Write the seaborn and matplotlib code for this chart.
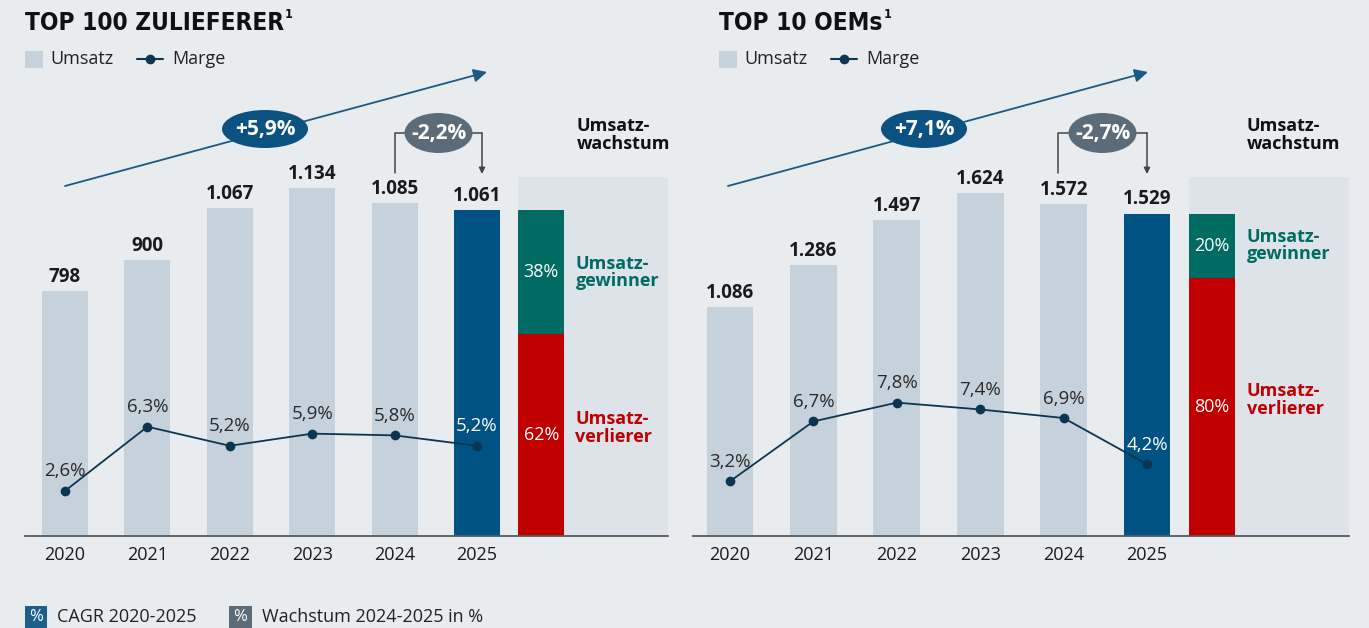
import matplotlib
matplotlib.use("Agg")
import matplotlib.pyplot as plt
from matplotlib.patches import Ellipse, Rectangle
import seaborn as sns
import numpy as np
import pandas as pd

# ---------------- data ----------------
years = ["2020", "2021", "2022", "2023", "2024", "2025"]

sup_title = "TOP 100 ZULIEFERER"
sup_umsatz = [798, 900, 1067, 1134, 1085, 1061]
sup_umsatz_labels = ["798", "900", "1.067", "1.134", "1.085", "1.061"]
sup_marge = [2.6, 6.3, 5.2, 5.9, 5.8, 5.2]
sup_marge_labels = ["2,6%", "6,3%", "5,2%", "5,9%", "5,8%", "5,2%"]
sup_gewinner = 38
sup_verlierer = 62
sup_cagr = "+5,9%"
sup_growth = "-2,2%"

oem_title = "TOP 10 OEMs"
oem_umsatz = [1086, 1286, 1497, 1624, 1572, 1529]
oem_umsatz_labels = ["1.086", "1.286", "1.497", "1.624", "1.572", "1.529"]
oem_marge = [3.2, 6.7, 7.8, 7.4, 6.9, 4.2]
oem_marge_labels = ["3,2%", "6,7%", "7,8%", "7,4%", "6,9%", "4,2%"]
oem_gewinner = 20
oem_verlierer = 80
oem_cagr = "+7,1%"
oem_growth = "-2,7%"

# ---------------- style ----------------
W, H = 1369, 628
BG = "#e8ecef"
SHADE = "#dde3e8"
BAR = "#c5d2db"
BAR_LAST = "#005283"
GREEN = "#006b63"
RED = "#c00000"
LINE = "#0c3650"
TXT = "#1a1a1a"
CAGR_C = "#0b5283"
GROW_C = "#5b6b78"

sns.set_theme(style="white")
plt.rcParams["font.family"] = ["Open Sans", "DejaVu Sans"]
plt.rcParams["text.color"] = TXT

fig = plt.figure(figsize=(W / 100, H / 100), dpi=100, facecolor=BG)


def fx(px):
    return px / W


def fy(py):
    return 1 - py / H


def panel(x_left, x_right, x0, step, umsatz, ulabels, marge, mlabels,
          gew, verl, ymax_units, mmax):
    top_px, bot_px = 60, 536
    ax = fig.add_axes([fx(x_left), fy(bot_px), (x_right - x_left) / W,
                       (bot_px - top_px) / H])
    ax.set_facecolor("none")
    df = pd.DataFrame({"year": years, "umsatz": umsatz})
    pal = {y: (BAR_LAST if y == years[-1] else BAR) for y in years}
    sns.barplot(data=df, x="year", y="umsatz", hue="year", palette=pal,
                width=0.56, legend=False, ax=ax, saturation=1, zorder=2,
                edgecolor="none", linewidth=0)
    xl = ((x_left - x0) / step, (x_right - x0) / step)
    ax.set_xlim(*xl)
    ax.set_ylim(0, ymax_units)
    # shaded region + stacked bar
    shade_top = (bot_px - 177) / (bot_px - top_px)
    ax.axvspan(5.5, xl[1], ymin=0, ymax=shade_top, color=SHADE, zorder=0, lw=0)
    xstk = 5.78
    total = umsatz[-1]
    hv = total * verl / 100
    hg = total * gew / 100
    ax.bar(xstk, hv, width=0.56, color=RED, zorder=2, lw=0)
    ax.bar(xstk, hg, bottom=hv, width=0.56, color=GREEN, zorder=2, lw=0)
    ax.text(xstk, hv / 2, f"{verl}%", color="white", ha="center", va="center",
            fontsize=13, zorder=5)
    ax.text(xstk, hv + hg / 2, f"{gew}%", color="white", ha="center",
            va="center", fontsize=13, zorder=5)
    ax.annotate("Umsatz-\ngewinner", (xstk + 0.28, hv + hg / 2),
                xytext=(8, 0), textcoords="offset points", ha="left",
                va="center", color=GREEN, fontsize=13, fontweight="bold",
                linespacing=0.95)
    ax.annotate("Umsatz-\nverlierer", (xstk + 0.28, hv / 2),
                xytext=(8, 5), textcoords="offset points", ha="left",
                va="center", color=RED, fontsize=13, fontweight="bold",
                linespacing=0.95)
    # value labels
    for i, (v, lab) in enumerate(zip(umsatz, ulabels)):
        ax.annotate(lab, (i, v), xytext=(0, 3), textcoords="offset points",
                    ha="center", va="bottom", fontsize=13.5, fontweight="bold",
                    color=TXT)
    # axes styling
    for s in ["top", "right", "left"]:
        ax.spines[s].set_visible(False)
    ax.spines["bottom"].set_color("#555a5e")
    ax.spines["bottom"].set_linewidth(1.3)
    ax.set_yticks([])
    ax.set_xticks(range(6))
    ax.set_xticklabels(years, fontsize=13, color=TXT)
    ax.tick_params(axis="x", length=0, pad=7)
    ax.set_xlabel("")
    ax.set_ylabel("")
    # margin line
    ax2 = ax.twinx()
    ax2.set_ylim(0, mmax)
    sns.lineplot(x=np.arange(6), y=marge, ax=ax2, color=LINE, lw=1.3,
                 marker="o", markersize=7, markeredgewidth=0,
                 markerfacecolor=LINE, zorder=4)
    ax2.set_xlim(*xl)
    for i, (m, lab) in enumerate(zip(marge, mlabels)):
        ax2.annotate(lab, (i, m), xytext=(0, 14), textcoords="offset points",
                     ha="center", va="center", fontsize=13.5,
                     color=("white" if i == 5 else "#2a2a2a"), zorder=5)
    ax2.axis("off")
    return ax


panel(25, 668, 65, 82.4, sup_umsatz, sup_umsatz_labels, sup_marge,
      sup_marge_labels, sup_gewinner, sup_verlierer, 476 / 0.307, 476 / 17.35)
panel(693, 1349, 730, 83.4, oem_umsatz, oem_umsatz_labels, oem_marge,
      oem_marge_labels, oem_gewinner, oem_verlierer, 476 / 0.2109, 476 / 17.1)

# ---------------- overlay decorations (pixel coords) ----------------
ov = fig.add_axes([0, 0, 1, 1], zorder=10)
ov.set_xlim(0, W)
ov.set_ylim(H, 0)
ov.axis("off")
ov.patch.set_alpha(0)

renderer = fig.canvas.get_renderer()


def title(x, txt):
    t = ov.text(x, 23, txt, fontsize=17.5, fontweight="bold", ha="left",
                va="center", color="#111111", family="DejaVu Sans",
                fontstretch="condensed")
    bb = t.get_window_extent(renderer=renderer)
    xr = bb.x1
    ov.text(xr + 1, 14, "1", fontsize=9, fontweight="bold", ha="left",
            va="center", color="#111111", family="DejaVu Sans",
            fontstretch="condensed")


def legend(x):
    ov.add_patch(Rectangle((x, 51), 18, 17, color=BAR, lw=0))
    ov.text(x + 25, 59, "Umsatz", fontsize=13, va="center", ha="left",
            color="#222222")
    ov.plot([x + 112, x + 138], [59, 59], color=LINE, lw=1.5)
    ov.plot([x + 125], [59], "o", color=LINE, ms=7, mew=0)
    ov.text(x + 147, 59, "Marge", fontsize=13, va="center", ha="left",
            color="#222222")


def cagr(x_start, x_end, ecx, txt):
    ov.annotate("", xy=(x_end, 72), xytext=(x_start, 186),
                arrowprops=dict(arrowstyle="-|>", color="#1a5a85", lw=1.3,
                                mutation_scale=20, shrinkA=0, shrinkB=0))
    ov.add_patch(Ellipse((ecx, 129), 86, 38, color=CAGR_C, lw=0, zorder=3))
    ov.text(ecx, 129, txt, color="white", fontsize=15, fontweight="bold",
            ha="center", va="center", zorder=4)


def growth(xa, xb, txt):
    ov.plot([xa, xa, xb], [173, 133, 133], color="#444444", lw=1.1)
    ov.annotate("", xy=(xb, 174), xytext=(xb, 133),
                arrowprops=dict(arrowstyle="-|>", color="#444444", lw=1.1,
                                mutation_scale=9, shrinkA=0, shrinkB=0))
    cx = (xa + xb) / 2
    ov.add_patch(Ellipse((cx, 133), 68, 40, color=GROW_C, lw=0, zorder=3))
    ov.text(cx, 133, txt, color="white", fontsize=15, fontweight="bold",
            ha="center", va="center", zorder=4)


def wachstum(x):
    ov.text(x, 135, "Umsatz-\nwachstum", fontsize=13, fontweight="bold",
            ha="left", va="center", color="#111111", linespacing=1.0)


title(25, sup_title)
title(719, oem_title)
legend(25)
legend(719)
cagr(65, 487, 265, sup_cagr)
cagr(728, 1148, 924, oem_cagr)
growth(395, 482, sup_growth)
growth(1058, 1147, oem_growth)
wachstum(577)
wachstum(1247)

# footer legend
ov.add_patch(Rectangle((25, 606), 22, 22, color="#1c5f8b", lw=0))
ov.text(36, 617, "%", color="white", fontsize=12, ha="center", va="center")
ov.text(57, 617, "CAGR 2020-2025", fontsize=13, ha="left", va="center",
        color="#222222")
ov.add_patch(Rectangle((229, 606), 23, 22, color=GROW_C, lw=0))
ov.text(240.5, 617, "%", color="white", fontsize=12, ha="center", va="center")
ov.text(262, 617, "Wachstum 2024-2025 in %", fontsize=13, ha="left",
        va="center", color="#222222")

fig.savefig("out.png", dpi=100, facecolor=BG)
